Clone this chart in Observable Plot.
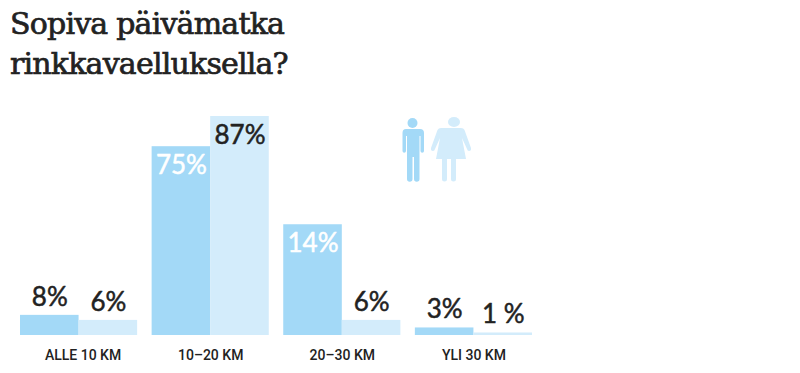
<!DOCTYPE html>
<html><head><meta charset="utf-8">
<script src="https://cdn.jsdelivr.net/npm/d3@7"></script>
<script src="https://cdn.jsdelivr.net/npm/@observablehq/plot@0.6"></script>
<style>
html,body{margin:0;padding:0;background:#fff;overflow:hidden}
h1{margin:0;padding:4px 0 0 10px;height:76px;box-sizing:content-box;font:400 30px/40px "DejaVu Serif",serif;color:#222;letter-spacing:-.8px;-webkit-text-stroke:.7px #222}
svg{display:block}
</style></head><body>
<h1>Sopiva päivämatka<br>rinkkavaelluksella?</h1>
<div id="c"></div>
<script>
const categories = ["ALLE 10 KM","10–20 KM","20–30 KM","YLI 30 KM"];
const series = ["Miehet","Naiset"];
// Drawn bar heights (the 14% bar is drawn about 44 tall)
const menHeights = [8,75,44,3];
const womenHeights = [6,87,6,1];
const menLabels = ["8%","75%","14%","3%"];
const womenLabels = ["6%","87%","6%","1 %"];
const colors = ["#a3d9f7","#d3ecfb"];
const rows = categories.flatMap((c,i)=>[
  {c,s:series[0],v:menHeights[i],t:menLabels[i]},
  {c,s:series[1],v:womenHeights[i],t:womenLabels[i]}
]);
const isInside = d => d.v > 40;
const font = "Lato, 'Open Sans', sans-serif";
const insideColor = d => d.s===series[1] ? "#222" : "#fff";
const axisStyle = {anchor:"bottom",tickSize:0,tickPadding:15,label:null,fontSize:14,fontWeight:500,
  fontFamily:"Roboto, sans-serif",fill:"#222"};
const chart = Plot.plot({
  width:800, height:293,
  marginLeft:20, marginRight:268, marginTop:36, marginBottom:38,
  fx:{domain:categories, padding:0.11, round:false, label:null},
  x:{domain:series, padding:0, round:false, axis:null},
  y:{domain:[0,87], axis:null},
  color:{domain:series, range:colors},
  style:{background:"transparent"},
  marks:[
    Plot.barY(rows,{fx:"c",x:"s",y:"v",fill:"s"}),
    Plot.text(rows.filter(isInside),{fx:"c",x:"s",y:"v",text:"t",dy:19,
      fill:insideColor,stroke:insideColor,strokeWidth:0.5,fontSize:26,fontFamily:font}),
    Plot.text(rows.filter(d=>!isInside(d)),{fx:"c",x:"s",y:"v",text:"t",dy:-18,
      fill:"#222",stroke:"#222",strokeWidth:0.5,fontSize:26,fontFamily:font}),
    Plot.axisFx({...axisStyle,ticks:categories.slice(1)}),
    Plot.axisFx({...axisStyle,ticks:categories.slice(0,1),dx:4})
  ]
});
const g = d3.select(chart).append("g").attr("transform","translate(0,-80)");
const man = g.append("g").attr("fill",colors[0]);
man.append("circle").attr("cx",412.5).attr("cy",123).attr("r",5);
man.append("path").attr("d","M405 129h15q4 0 4 4v18a1.5 1.5 0 0 1-3.500 0v-15h-1v43a2.500 2.500 0 0 1-5.500 0v-22h-1.500v22a2.500 2.500 0 0 1-5.500 0v-43h-1v15a1.500 1.500 0 0 1-3.500 0v-18q0-4 3.500-4z");
const w = g.append("g").attr("fill",colors[1]);
w.append("ellipse").attr("cx",454).attr("cy",122).attr("rx",6).attr("ry",5);
w.append("path").attr("d","M447 128h14q2.500 0 3.500 2l6.500 18q.5 3-2 3-1.500 0-2-2l-5-11 4 21h-10v20a2.500 2.500 0 0 1-5 0v-20h-4v20a2.500 2.500 0 0 1-5 0v-20h-6l4-21-5 11q-.5 2-2 2-2.500 0-2-3l6.500-18q1-2 3.500-2z");
document.getElementById("c").append(chart);
</script>
</body></html>
